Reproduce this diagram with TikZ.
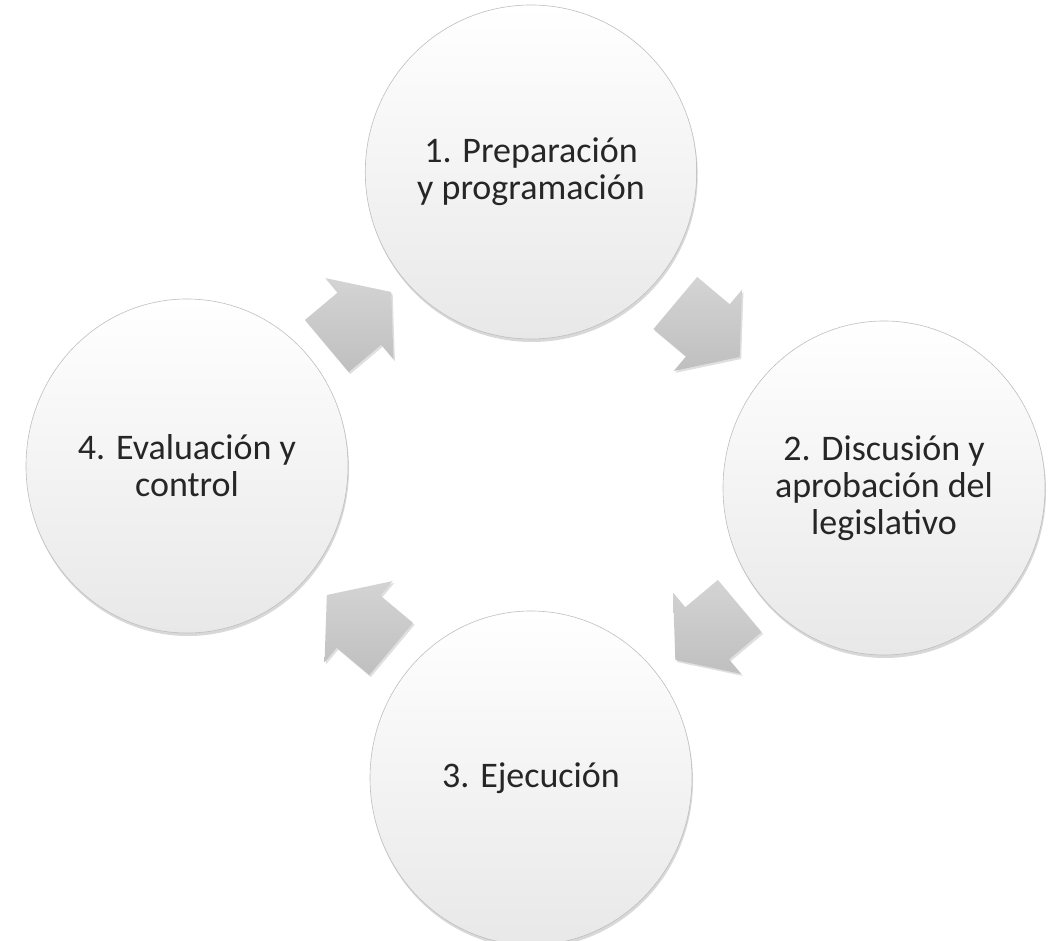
\documentclass[tikz,border=0pt]{standalone}
\usepackage{fontspec}
\setmainfont{Carlito}
\usetikzlibrary{shapes.geometric}
\usetikzlibrary{shadows}
\usetikzlibrary{calc}

\tikzset{
  fase/.style={ellipse, draw=gray!50, line width=0.6pt,
    top color=white, middle color=gray!4, bottom color=gray!18,
    minimum width=322pt, minimum height=334pt,
    align=center, text=black!85, font=\fontsize{36}{37}\selectfont,
    drop shadow={shadow xshift=1pt, shadow yshift=-3pt, opacity=0.3}},
  flecha/.pic={
    \path[top color=gray!34, bottom color=gray!50, shading angle=0,
          drop shadow={shadow xshift=1.5pt, shadow yshift=-2pt, opacity=0.25}]
      (-42,34) -- (0.5,34) -- (0.5,53) -- (42,0)
      -- (0.5,-53) -- (0.5,-34) -- (-42,-34) -- cycle;
  }
}

\begin{document}
\begin{tikzpicture}[x=1pt,y=1pt]
                    \useasboundingbox[fill=white] (0,0) rectangle (1060,940);
                    \node[fase] (prep) at (531,768) {1. Preparación\\y programación};
                    \node[fase] (disc) at (884,452) {2. Discusión y\\aprobación del\\legislativo};
                    \node[fase] (ejec) at (531,162) {3. Ejecución};
                    \node[fase] (eval) at (187,474) {4. Evaluación y\\control};
                    \pic[rotate=40] at ($(eval)!0.5!(prep)$) {flecha};
                    \pic[rotate=-40] at ($(prep)!0.5!(disc)$) {flecha};
                    \pic[rotate=220] at ($(disc)!0.5!(ejec)$) {flecha};
                    \pic[rotate=140] at ($(ejec)!0.5!(eval)$) {flecha};
                \end{tikzpicture}
\end{document}
